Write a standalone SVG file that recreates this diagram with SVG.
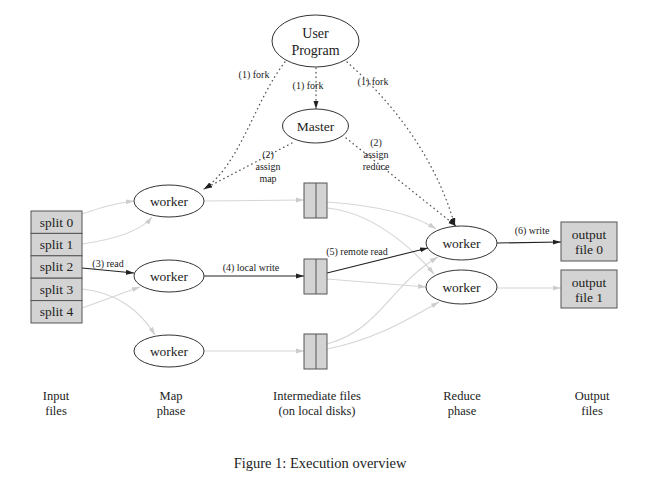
<svg xmlns="http://www.w3.org/2000/svg" width="650" height="489" viewBox="0 0 650 489">
<style>
text{font-family:"Liberation Serif","Times New Roman",serif;fill:#222;text-anchor:middle}
.node{fill:#fff;stroke:#333;stroke-width:1}
.box{fill:#d3d3d3;stroke:#555;stroke-width:1}
.lbl{font-size:10px}
.nt{font-size:13.5px}
.ph{font-size:12.5px}
.g{fill:none;stroke:#d6d6d6;stroke-width:1.2;marker-end:url(#ag)}
.k{fill:none;stroke:#222;stroke-width:1.1;marker-end:url(#ak)}
.d{fill:none;stroke:#555;stroke-width:1.3;stroke-dasharray:0.5,4;stroke-linecap:round;marker-end:url(#ak)}
</style>
<defs>
<marker id="ak" markerUnits="userSpaceOnUse" markerWidth="9" markerHeight="7" refX="8" refY="3" orient="auto"><path d="M0,0.5 L8,3 L0,5.5 z" fill="#222"/></marker>
<marker id="ag" markerUnits="userSpaceOnUse" markerWidth="9" markerHeight="7" refX="8" refY="3" orient="auto"><path d="M0,0.5 L8,3 L0,5.5 z" fill="#cdcdcd"/></marker>
</defs>
<rect width="650" height="489" fill="#fff"/>
<g id="connectors">
<path class="g" d="M82,214 C100,208 115,203 134,201"/>
<path class="g" d="M82,244 C110,240 140,232 152,217"/>
<path class="g" d="M82,289 C115,292 140,310 155,335"/>
<path class="g" d="M82,308 C105,300 125,292 140,287"/>
<path class="g" d="M204,201 L304,200"/>
<path class="g" d="M204,351 L304,351"/>
<path class="g" d="M327,202 C370,205 410,212 436,229"/>
<path class="g" d="M327,208 C370,212 410,245 434,274"/>
<path class="g" d="M327,279 L426,287"/>
<path class="g" d="M327,344 C380,330 390,285 438,257"/>
<path class="g" d="M327,349 C375,340 410,318 439,302"/>
<path class="g" d="M497,288 L561,288"/>
<path class="k" d="M82,268 L134,273"/>
<path class="k" d="M204,276 L304,276"/>
<path class="k" d="M327,273 L428,248"/>
<path class="k" d="M497,243 L561,242"/>
<path class="d" d="M316,68 L316,109"/>
<path class="d" d="M285,62 C255,100 240,165 204,189"/>
<path class="d" d="M292,143 L204,189"/>
<path class="d" d="M347,62 C390,100 435,155 455,226"/>
<path class="d" d="M346,138 L456,226"/>
<text class="lbl" x="254" y="78">(1) fork</text>
<text class="lbl" x="308" y="89">(1) fork</text>
<text class="lbl" x="373" y="85">(1) fork</text>
<text class="lbl" x="268" y="158">(2)</text>
<text class="lbl" x="268" y="170">assign</text>
<text class="lbl" x="268" y="182">map</text>
<text class="lbl" x="376" y="146">(2)</text>
<text class="lbl" x="376" y="158">assign</text>
<text class="lbl" x="376" y="170">reduce</text>
<text class="lbl" x="108" y="267">(3) read</text>
<text class="lbl" x="251" y="271">(4) local write</text>
<text class="lbl" x="357" y="255">(5) remote read</text>
<text class="lbl" x="532" y="234">(6) write</text>
</g>
<g id="user-program"><ellipse class="node" cx="315.5" cy="41" rx="43.5" ry="26"/><text x="315.5" y="38" font-size="14">User</text><text x="315.5" y="55" font-size="14">Program</text></g>
<g id="master"><ellipse class="node" cx="315.5" cy="126" rx="33" ry="17"/><text class="nt" x="315.5" y="131">Master</text></g>
<g id="splits">
<rect class="box" x="31" y="211" width="51" height="22.4"/><text class="nt" x="56.5" y="226.5">split 0</text>
<rect class="box" x="31" y="233.4" width="51" height="22.4"/><text class="nt" x="56.5" y="249">split 1</text>
<rect class="box" x="31" y="255.8" width="51" height="22.4"/><text class="nt" x="56.5" y="271.4">split 2</text>
<rect class="box" x="31" y="278.2" width="51" height="22.4"/><text class="nt" x="56.5" y="293.8">split 3</text>
<rect class="box" x="31" y="300.6" width="51" height="22.4"/><text class="nt" x="56.5" y="316.2">split 4</text>
</g>
<g id="map-worker-1"><ellipse class="node" cx="169" cy="201" rx="35" ry="16"/><text class="nt" x="169" y="205.5">worker</text></g>
<g id="map-worker-2"><ellipse class="node" cx="169" cy="276" rx="35" ry="16"/><text class="nt" x="169" y="280.5">worker</text></g>
<g id="map-worker-3"><ellipse class="node" cx="169" cy="351" rx="35" ry="16"/><text class="nt" x="169" y="355.5">worker</text></g>
<g id="inter-file-1"><rect class="box" x="304" y="183" width="23" height="35"/><line x1="316" y1="183" x2="316" y2="218" stroke="#555"/></g>
<g id="inter-file-2"><rect class="box" x="304" y="259" width="23" height="35"/><line x1="316" y1="259" x2="316" y2="294" stroke="#555"/></g>
<g id="inter-file-3"><rect class="box" x="304" y="334" width="23" height="35"/><line x1="316" y1="334" x2="316" y2="369" stroke="#555"/></g>
<g id="reduce-worker-1"><ellipse class="node" cx="461.5" cy="243" rx="35.5" ry="17"/><text class="nt" x="461.5" y="247.5">worker</text></g>
<g id="reduce-worker-2"><ellipse class="node" cx="461.5" cy="287" rx="35.5" ry="17"/><text class="nt" x="461.5" y="291.5">worker</text></g>
<g id="output-file-0"><rect class="box" x="561" y="222" width="56" height="39"/><text class="nt" x="589" y="239">output</text><text class="nt" x="589" y="254">file 0</text></g>
<g id="output-file-1"><rect class="box" x="561" y="270" width="56" height="38"/><text class="nt" x="589" y="287">output</text><text class="nt" x="589" y="302">file 1</text></g>
<g id="phase-labels">
<text class="ph" x="56" y="400">Input</text><text class="ph" x="56" y="415">files</text>
<text class="ph" x="171" y="400">Map</text><text class="ph" x="171" y="415">phase</text>
<text class="ph" x="317" y="400">Intermediate files</text><text class="ph" x="317" y="415">(on local disks)</text>
<text class="ph" x="462" y="400">Reduce</text><text class="ph" x="462" y="415">phase</text>
<text class="ph" x="592" y="400">Output</text><text class="ph" x="592" y="415">files</text>
</g>
<text x="320" y="468" font-size="14.5">Figure 1: Execution overview</text>
</svg>
